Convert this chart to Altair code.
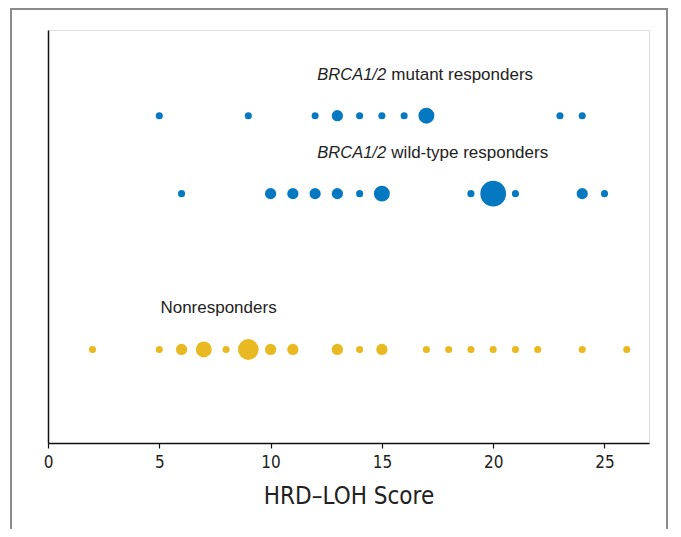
import altair as alt
import pandas as pd

# Data
mut_x = [5, 9, 12, 13, 14, 15, 16, 17, 23, 24]
mut_n = [1, 1, 1, 2, 1, 1, 1, 3, 1, 1]
wt_x = [6, 10, 11, 12, 13, 14, 15, 19, 20, 21, 24, 25]
wt_n = [1, 2, 2, 2, 2, 1, 3, 1, 5, 1, 2, 1]
non_x = [2, 5, 6, 7, 8, 9, 10, 11, 13, 14, 15, 17, 18, 19, 20, 21, 22, 24, 26]
non_n = [1, 1, 2, 3, 1, 4, 2, 2, 2, 1, 2, 1, 1, 1, 1, 1, 1, 1, 1]

groups = ["mutant", "wildtype", "non"]
group_row = [4.2, 3.2, 1.2]
group_color = ["#0479c1", "#0479c1", "#e9b921"]
label_italic = ["BRCA1/2", "BRCA1/2", ""]
label_normal = ["mutant responders", "wild-type responders", "Nonresponders"]
label_x = [12.1, 12.1, 5.05]
x_ticks = [0, 5, 10, 15, 20, 25]

rows = []
for g, xs, ns in zip(groups, [mut_x, wt_x, non_x], [mut_n, wt_n, non_n]):
    gi = groups.index(g)
    for x, n in zip(xs, ns):
        rows.append({"group": g, "score": x, "n": n, "row": group_row[gi]})
df = pd.DataFrame(rows)

lab = pd.DataFrame({
    "group": groups,
    "row": group_row,
    "lx": label_x,
    "ital": label_italic,
    "norm": label_normal,
})

W, H = 601, 413
xscale = alt.Scale(domain=[0, 27], nice=False, zero=False)
yscale = alt.Scale(domain=[0, 5.3], nice=False, zero=False)
cond = "DejaVu Sans Condensed, Liberation Sans, sans-serif"

points = alt.Chart(df).mark_circle(opacity=1).encode(
    x=alt.X("score:Q", scale=xscale,
            axis=alt.Axis(values=x_ticks, title="HRD\u2013LOH Score", grid=False,
                          domainColor="#111", domainWidth=1.5, tickColor="#111",
                          tickWidth=1.2, tickSize=5, labelFont=cond, labelFlush=False,
                          labelFontSize=17, labelColor="#222", labelPadding=6,
                          titleFont=cond, titleFontSize=24,
                          titleFontWeight="normal", titleColor="#222", titlePadding=14)),
    y=alt.Y("row:Q", scale=yscale,
            axis=alt.Axis(title=None, labels=False, ticks=False, grid=False,
                          domainColor="#111", domainWidth=1.5)),
    size=alt.Size("n:Q", scale=alt.Scale(type="pow", exponent=2, domain=[1, 5],
                                         range=[50, 660]), legend=None),
    color=alt.Color("group:N", scale=alt.Scale(domain=groups, range=group_color),
                    legend=None),
)

ital = alt.Chart(lab).mark_text(
    align="left", baseline="alphabetic", dy=-36, font="Liberation Sans",
    fontSize=16.5, fontStyle="italic", color="#222"
).encode(x=alt.X("lx:Q", scale=xscale), y=alt.Y("row:Q", scale=yscale), text="ital:N")

norm_resp = alt.Chart(lab).transform_filter("datum.ital != ''").mark_text(
    align="left", baseline="alphabetic", dy=-36, dx=74, font="Liberation Sans",
    fontSize=17, color="#222"
).encode(x=alt.X("lx:Q", scale=xscale), y=alt.Y("row:Q", scale=yscale), text="norm:N")

norm_non = alt.Chart(lab).transform_filter("datum.ital == ''").mark_text(
    align="left", baseline="alphabetic", dy=-36, font="Liberation Sans",
    fontSize=17, color="#222"
).encode(x=alt.X("lx:Q", scale=xscale), y=alt.Y("row:Q", scale=yscale), text="norm:N")

frame_color = "#8a8a8a"
frame_left = alt.Chart(lab).mark_rule(color=frame_color, strokeWidth=1.5).encode(
    x=alt.value(-37), y=alt.value(-22), y2=alt.value(H + 86))
frame_right = alt.Chart(lab).mark_rule(color=frame_color, strokeWidth=1.5).encode(
    x=alt.value(619), y=alt.value(-22), y2=alt.value(H + 86))
frame_top = alt.Chart(lab).mark_rule(color=frame_color, strokeWidth=1.5).encode(
    x=alt.value(-37), x2=alt.value(619), y=alt.value(-21))

chart = alt.layer(frame_left, frame_right, frame_top, points, ital, norm_resp, norm_non).properties(
    width=W, height=H,
    autosize=alt.AutoSizeParams(type="none"),
    padding={"left": 40, "top": 22, "right": 24, "bottom": 86},
).configure_view(stroke=None).configure(background="white")

chart.save("out.html", embed_options={"renderer": "svg", "actions": False})
